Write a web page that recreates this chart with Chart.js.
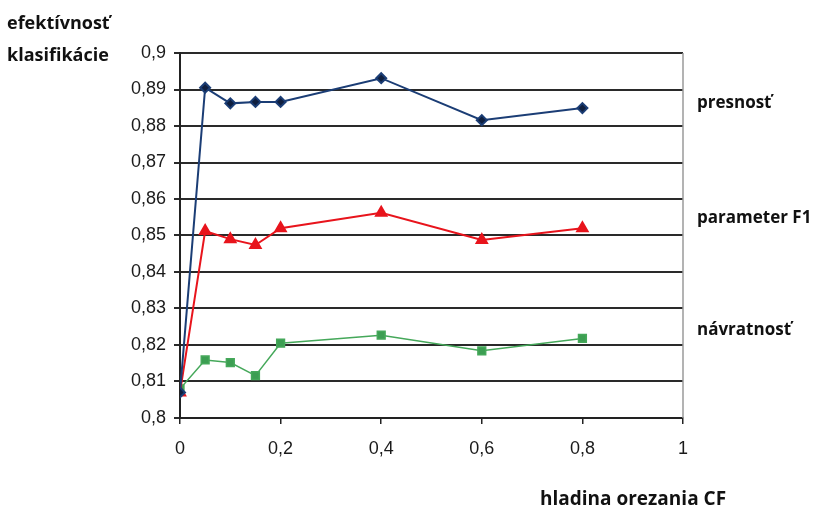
<!DOCTYPE html>
<html>
<head>
<meta charset="utf-8">
<script src="https://cdn.jsdelivr.net/npm/chart.js@4"></script>
<style>
  html, body { margin: 0; padding: 0; background: #fff; }
</style>
</head>
<body>
<canvas id="myChart" width="815" height="509"></canvas>
<script>
// hladina orezania CF
const cfLevels = [0, 0.05, 0.1, 0.15, 0.2, 0.4, 0.6, 0.8];
const presnost = [0.807, 0.8905, 0.8862, 0.8866, 0.8866, 0.8931, 0.8816, 0.8849];
const parameterF1 = [0.807, 0.8512, 0.849, 0.8474, 0.852, 0.8562, 0.8488, 0.852];
const navratnost = [0.808, 0.8159, 0.8152, 0.8116, 0.8205, 0.8227, 0.8184, 0.8218];
const seriesNames = ["presnosť", "parameter F1", "návratnosť"];
const yTitle = ["efektívnosť", "klasifikácie"];
const xTitle = "hladina orezania CF";

function toPoints(vals) {
    return cfLevels.map((x, i) => ({ x: x, y: vals[i] }));
}
function comma(v) {
    return String(+v.toFixed(2)).replace(".", ",");
}

// texty okolo grafu
const textPlugin = {
    id: "texts",
    afterDraw(chart) {
        const ctx = chart.ctx;
        const area = chart.chartArea;
        ctx.save();
        // pravy okraj
        ctx.strokeStyle = "#9a9a9a";
        ctx.lineWidth = 1.5;
        ctx.beginPath();
        ctx.moveTo(area.right, area.top);
        ctx.lineTo(area.right, area.bottom);
        ctx.stroke();

        ctx.fillStyle = "#111";
        ctx.font = 'bold 18px "Open Sans"';
        ctx.textAlign = "left";
        ctx.textBaseline = "alphabetic";
        ctx.fillText(yTitle[0], 7, 29);
        ctx.fillText(yTitle[1], 7, 61);

        ctx.font = 'bold 17px "Open Sans"';
        ctx.textBaseline = "middle";
        const ys = [103, 218, 330];
        seriesNames.forEach((n, i) => ctx.fillText(n, 697, ys[i]));

        ctx.font = 'bold 19px "Open Sans"';
        ctx.fillText(xTitle, 540, 500);
        ctx.restore();
    },
};

const ctx = document.querySelector("#myChart").getContext("2d");
const myChart = new Chart(ctx, {
    type: "scatter",
    data: {
        datasets: [
            {
                label: seriesNames[0],
                data: toPoints(presnost),
                showLine: true,
                borderColor: "#1b3d75",
                backgroundColor: "#0f1f3f",
                borderWidth: 2,
                pointStyle: "rectRot",
                pointRadius: 5,
            },
            {
                label: seriesNames[1],
                data: toPoints(parameterF1),
                showLine: true,
                borderColor: "#e8141c",
                backgroundColor: "#e8141c",
                borderWidth: 2,
                pointStyle: "triangle",
                pointRadius: 6,
            },
            {
                label: seriesNames[2],
                data: toPoints(navratnost),
                showLine: true,
                borderColor: "#45a85a",
                backgroundColor: "#3c9e52",
                borderWidth: 1.5,
                pointStyle: "rect",
                pointRadius: 5.5,
            },
        ],
    },
    options: {
        responsive: false,
        animation: false,
        layout: { padding: { left: 0, top: 53, right: 132, bottom: 0 } },
        plugins: {
            legend: { display: false },
            tooltip: { enabled: false },
        },
        scales: {
            x: {
                type: "linear",
                min: 0,
                max: 1,
                afterFit: (s) => { s.height = 91; },
                ticks: {
                    stepSize: 0.2,
                    color: "#1a1a1a",
                    padding: 14,
                    font: { family: "Liberation Sans", size: 18 },
                    callback: (v) => comma(v),
                },
                grid: { drawOnChartArea: false, drawTicks: true, tickLength: 6, color: "#222", lineWidth: 1.5 },
                border: { color: "#222", width: 2 },
            },
            y: {
                min: 0.8,
                max: 0.9,
                afterFit: (s) => { s.width = 180; },
                ticks: {
                    stepSize: 0.01,
                    color: "#1a1a1a",
                    padding: 8,
                    font: { family: "Liberation Sans", size: 18 },
                    callback: (v) => comma(v),
                },
                grid: { color: "#2a2a2a", lineWidth: 2, tickLength: 6 },
                border: { color: "#222", width: 2 },
            },
        },
    },
    plugins: [textPlugin],
});
</script>
</body>
</html>
